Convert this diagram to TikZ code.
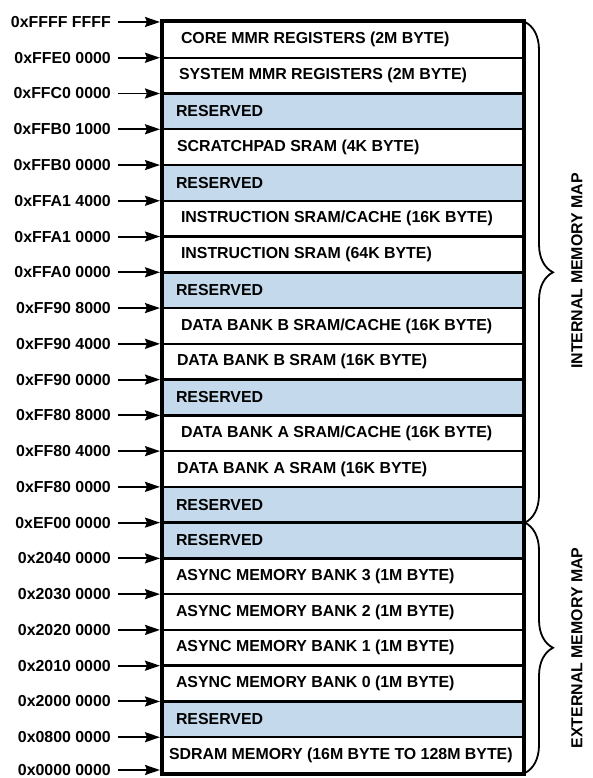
\documentclass[tikz,border=0pt]{standalone}
\usepackage{fontspec}
\setmainfont{Liberation Sans}
\usepackage{tikz}
\usetikzlibrary{arrows.meta,decorations.pathreplacing}
\definecolor{memblue}{RGB}{196,217,235}

\tikzset{
  memrow/.style={draw, line width=2.4pt, minimum width=360pt, minimum height=35.76pt, inner sep=0pt},
  rowtext/.style={anchor=west, inner sep=0pt, font=\bfseries\fontsize{15.9}{18}\selectfont},
  addr/.style={anchor=east, inner sep=0pt, font=\bfseries\fontsize{15.9}{18}\selectfont},
  addrarrow/.style={line width=1.9pt, -{Stealth[length=15pt, width=10pt, inset=2pt]}},
  mapbrace/.style={line width=1.8pt, decorate, decoration={brace, amplitude=28pt}},
  maptext/.style={rotate=90, font=\bfseries\fontsize{15.9}{18}\selectfont}
}

\begin{document}
\begin{tikzpicture}[x=1pt, y=1pt]
\useasboundingbox (0,0) rectangle (592,778);

% memory regions, top to bottom
\foreach \i/\txt/\dx/\fc in {
  1/{CORE MMR REGISTERS (2M BYTE)}/19/white,
  2/{SYSTEM MMR REGISTERS (2M BYTE)}/17/white,
  3/{RESERVED}/14/memblue,
  4/{SCRATCHPAD SRAM (4K BYTE)}/15/white,
  5/{RESERVED}/14/memblue,
  6/{INSTRUCTION SRAM/CACHE (16K BYTE)}/19/white,
  7/{INSTRUCTION SRAM (64K BYTE)}/19/white,
  8/{RESERVED}/14/memblue,
  9/{DATA BANK B SRAM/CACHE (16K BYTE)}/19/white,
  10/{DATA BANK B SRAM (16K BYTE)}/15/white,
  11/{RESERVED}/14/memblue,
  12/{DATA BANK A SRAM/CACHE (16K BYTE)}/19/white,
  13/{DATA BANK A SRAM (16K BYTE)}/15/white,
  14/{RESERVED}/14/memblue,
  15/{RESERVED}/14/memblue,
  16/{ASYNC MEMORY BANK 3 (1M BYTE)}/14/white,
  17/{ASYNC MEMORY BANK 2 (1M BYTE)}/14/white,
  18/{ASYNC MEMORY BANK 1 (1M BYTE)}/14/white,
  19/{ASYNC MEMORY BANK 0 (1M BYTE)}/14/white,
  20/{RESERVED}/14/memblue,
  21/{SDRAM MEMORY (16M BYTE TO 128M BYTE)}/7/white}
{
  \node[memrow, fill=\fc] (row\i) at (343, {756-(\i-0.5)*35.76}) {};
  \node[rowtext] (txt\i) at ([xshift=\dx pt]row\i.west) {\txt};
}
\draw[line width=3pt] (row1.north west) rectangle (row21.south east);

% addresses
\foreach \k/\adr in {
  0/0xFFFF FFFF, 1/0xFFE0 0000, 2/0xFFC0 0000, 3/0xFFB0 1000,
  4/0xFFB0 0000, 5/0xFFA1 4000, 6/0xFFA1 0000, 7/0xFFA0 0000,
  8/0xFF90 8000, 9/0xFF90 4000, 10/0xFF90 0000, 11/0xFF80 8000,
  12/0xFF80 4000, 13/0xFF80 0000, 14/0xEF00 0000, 15/0x2040 0000,
  16/0x2030 0000, 17/0x2020 0000, 18/0x2010 0000, 19/0x2000 0000,
  20/0x0800 0000}
{
  \node[addr] (adr\k) at (111, {756-\k*35.76}) {\adr};
  \coordinate (tip\k) at (160, {756-\k*35.76});
  \draw[addrarrow] ([xshift=7pt]adr\k.east) -- (tip\k);
}
\node[addr] (adr21) at (111, 8) {0x0000 0000};
\coordinate (tip21) at (160, 8);
\draw[addrarrow] ([xshift=7pt]adr21.east) -- (tip21);

% braces
\coordinate (intop) at (525, 756);
\coordinate (split) at (525, 255.36);
\coordinate (extbot) at (525, 5.04);
\draw[mapbrace] (intop) -- (split);
\draw[mapbrace] (split) -- (extbot);
\node[maptext] (intmap) at (577, 507) {INTERNAL MEMORY MAP};
\node[maptext] (extmap) at (577, 130) {EXTERNAL MEMORY MAP};
\end{tikzpicture}
\end{document}
